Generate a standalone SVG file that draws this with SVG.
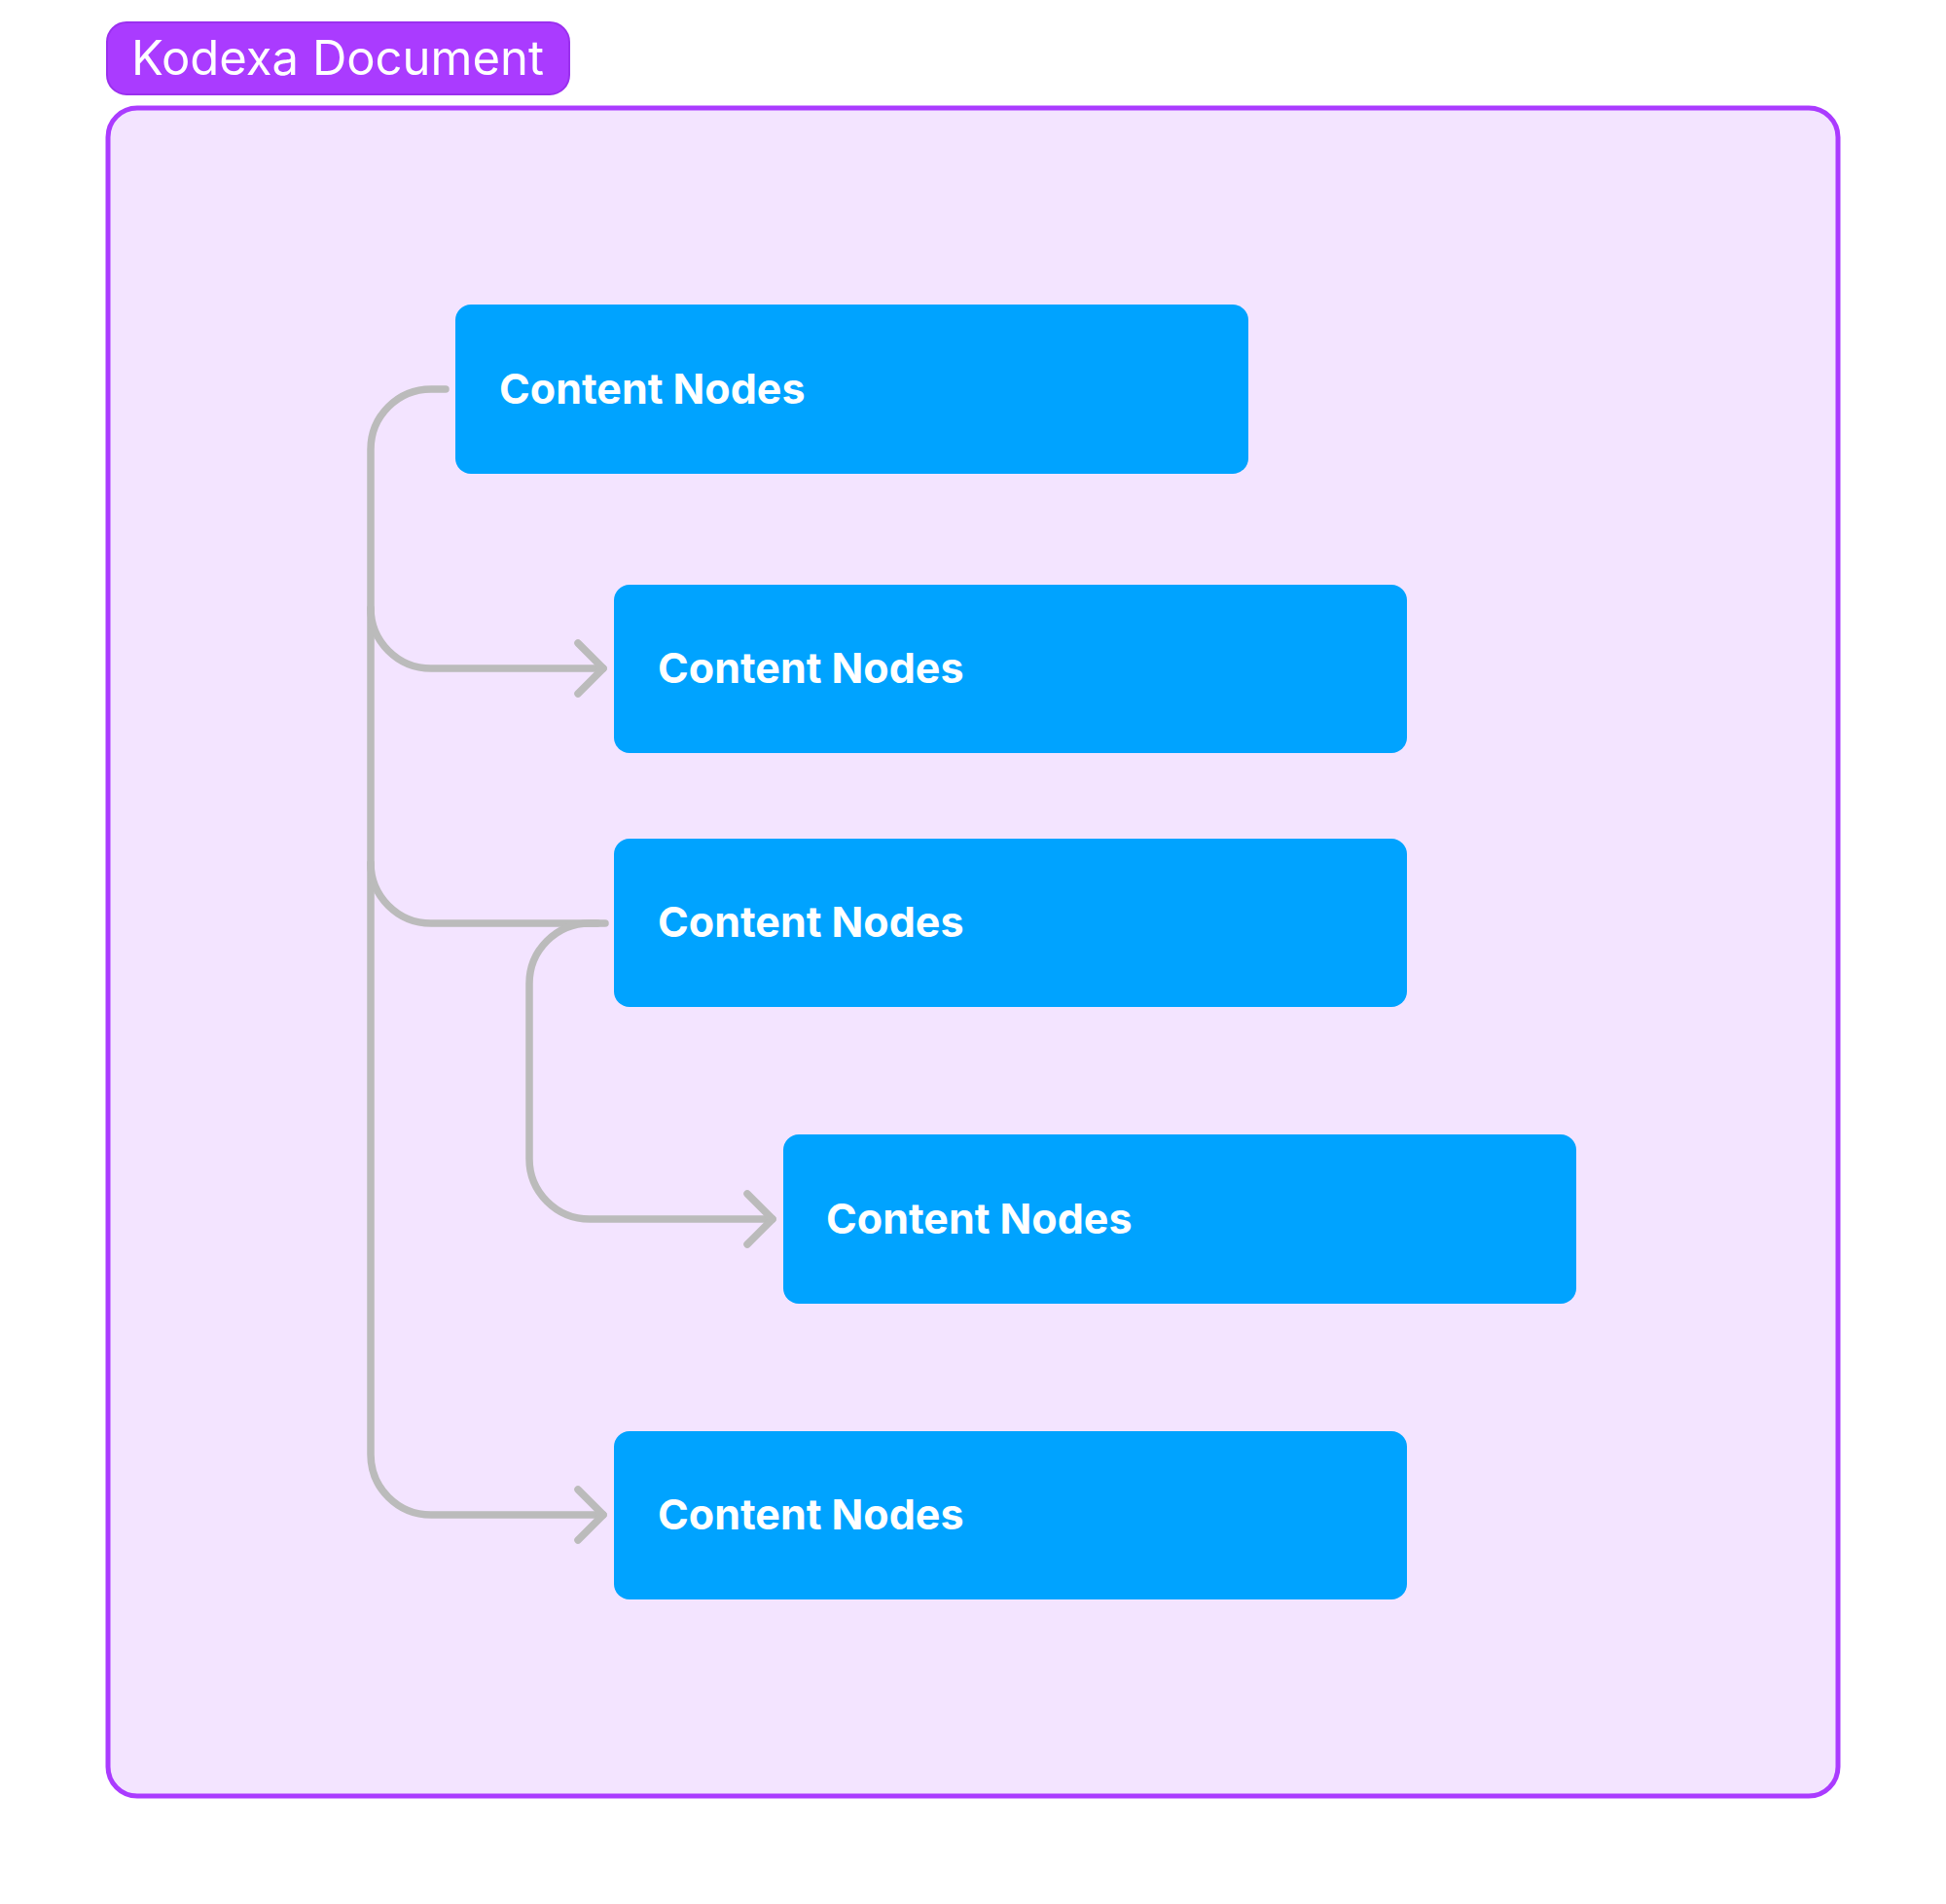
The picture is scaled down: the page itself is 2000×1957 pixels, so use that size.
<svg xmlns="http://www.w3.org/2000/svg" width="2000" height="1957" viewBox="0 0 2000 1957">
<style>
.node rect{fill:#00A3FF}
.node text{fill:#FFFFFF;font-family:Inter,"Liberation Sans",sans-serif;font-weight:700;font-size:43px}
.conn path{fill:none;stroke:#BBBBBB;stroke-width:7.5;stroke-linecap:round;stroke-linejoin:round}
</style>
<rect width="2000" height="1957" fill="#FFFFFF"/>
<g id="container">
<rect x="111" y="111" width="1778" height="1735" rx="30" fill="#F3E4FF" stroke="#AA3BFF" stroke-width="5"/>
</g>
<g id="label">
<rect x="110" y="23" width="475" height="74" rx="20" fill="#AA3BFF" stroke="#9A30EE" stroke-width="2"/>
<text x="135" y="77" font-family="Inter,'Liberation Sans',sans-serif" font-size="49" fill="#FFFFFF">Kodexa Document</text>
</g>
<g id="connectors" class="conn">
<path d="M458 400 H443 A62 62 0 0 0 381 462 V1495 A62 62 0 0 0 443 1557 H620"/>
<path d="M381 625 A62 62 0 0 0 443 687 H620"/>
<path d="M381 887 A62 62 0 0 0 443 949 H622"/>
<path d="M614 949 H606 A62 62 0 0 0 544 1011 V1191 A62 62 0 0 0 606 1253 H794"/>
<path d="M594 661 L620 687 L594 713"/>
<path d="M768 1227 L794 1253 L768 1279"/>
<path d="M594 1531 L620 1557 L594 1583"/>
</g>
<g id="node1" class="node"><rect x="468" y="313" width="815" height="174" rx="16"/><text x="513" y="415">Content Nodes</text></g>
<g id="node2" class="node"><rect x="631" y="601" width="815" height="173" rx="16"/><text x="676" y="702">Content Nodes</text></g>
<g id="node3" class="node"><rect x="631" y="862" width="815" height="173" rx="16"/><text x="676" y="963">Content Nodes</text></g>
<g id="node4" class="node"><rect x="805" y="1166" width="815" height="174" rx="16"/><text x="849" y="1268">Content Nodes</text></g>
<g id="node5" class="node"><rect x="631" y="1471" width="815" height="173" rx="16"/><text x="676" y="1572">Content Nodes</text></g>
</svg>
